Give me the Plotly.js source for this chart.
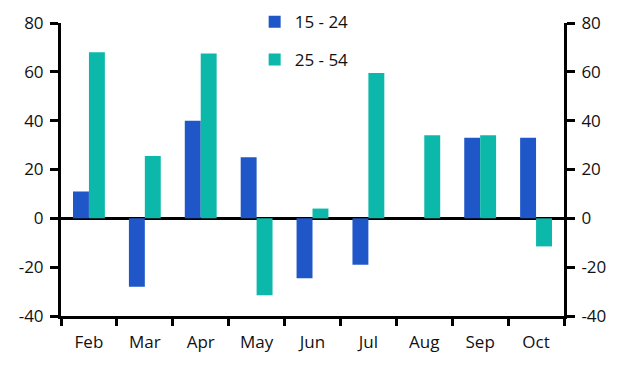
<!DOCTYPE html>
<html><head><meta charset="utf-8">
<script src="https://cdn.plot.ly/plotly-3.0.1.min.js"></script>
<style>body{margin:0;background:#fff}#c{width:624px;height:369px}</style>
</head><body><div id="c"></div>
<script>
const months = ["Feb","Mar","Apr","May","Jun","Jul","Aug","Sep","Oct"];
const age15_24 = [11,-28,40,25,-24.5,-19,0,33,33];
const age25_54 = [68,25.5,67.5,-31.5,4,59.5,34,34,-11.5];
const seriesNames = ["15 - 24","25 - 54"];
const yTicks = [-40,-20,0,20,40,60,80];
const yTickLabels = ["-40","-20","0","20","40","60","80"];

const font = {family:"Open Sans, Noto Sans, sans-serif", size:17, color:"#111"};
const traces = [
  {type:"bar", x:months, y:age15_24, name:seriesNames[0], marker:{color:"#1F57C8"}, legend:"legend"},
  {type:"bar", x:months, y:age25_54, name:seriesNames[1], marker:{color:"#0CB8AA"}, legend:"legend2"},
  {type:"scatter", x:months, y:age15_24, yaxis:"y2", mode:"markers", marker:{opacity:0}, showlegend:false, hoverinfo:"skip"}
];
const yax = {range:[-40,80], tickvals:yTicks, ticktext:yTickLabels, showgrid:false, showline:true, linecolor:"#000", linewidth:3,
  ticks:"outside", ticklen:8, tickwidth:3, tickcolor:"#000", zeroline:true, zerolinecolor:"#000", zerolinewidth:3,
  fixedrange:true, tickfont:font, ticklabelstandoff:3};
const layout = {
  width:624, height:369, margin:{l:61,r:60,t:23,b:53,autoexpand:false},
  paper_bgcolor:"#fff", plot_bgcolor:"#fff", font:font,
  barmode:"group", bargap:0.43, bargroupgap:0,
  xaxis:{type:"category", showline:true, linecolor:"#000", linewidth:3, ticks:"outside", tickson:"boundaries",
    ticklen:7, tickwidth:3, tickcolor:"#000", showgrid:false, tickfont:font, range:[-0.5,8.5], tickangle:0,
    ticklabelstandoff:9},
  yaxis:Object.assign({}, yax),
  yaxis2:Object.assign({}, yax, {overlaying:"y", side:"right", zeroline:false}),
  legend:{x:0.385, y:1.003, xanchor:"left", yanchor:"middle", font:font, bgcolor:"rgba(0,0,0,0)", itemwidth:30},
  legend2:{x:0.385, y:0.874, xanchor:"left", yanchor:"middle", font:font, bgcolor:"rgba(0,0,0,0)", itemwidth:30},
  showlegend:true
};
Plotly.newPlot("c", traces, layout, {displayModeBar:false, staticPlot:true});
</script></body></html>
